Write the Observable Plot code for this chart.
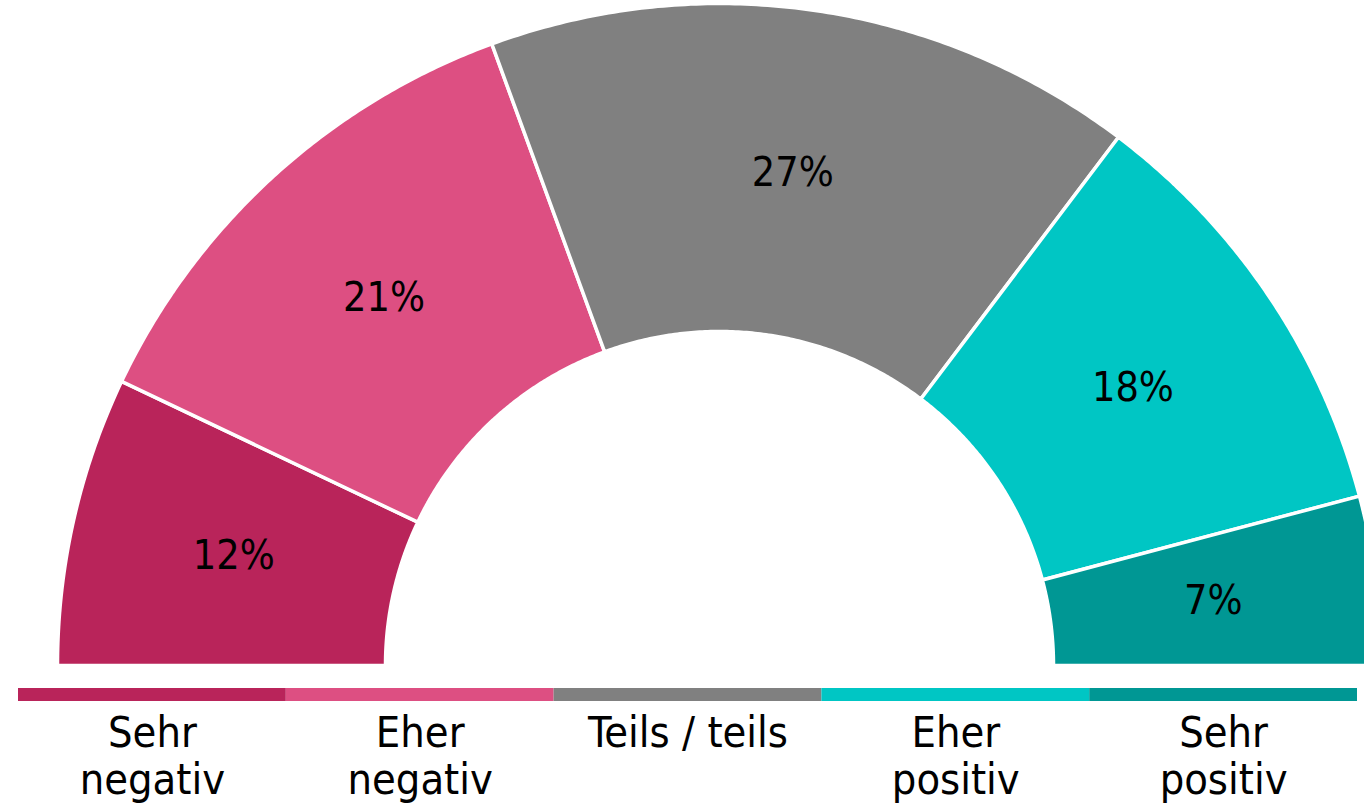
<!DOCTYPE html>
<html><head><meta charset="utf-8">
<script src="https://cdn.jsdelivr.net/npm/d3@7"></script>
<script src="https://cdn.jsdelivr.net/npm/@observablehq/plot@0.6"></script>
<style>body{margin:0;background:#fff} #chart svg{display:block}</style>
</head><body><div id="chart"></div>
<script>
// ---- data ----
const categories = ["Sehr negativ", "Eher negativ", "Teils / teils", "Eher positiv", "Sehr positiv"];
const legendLabels = ["Sehr\nnegativ", "Eher\nnegativ", "Teils / teils", "Eher\npositiv", "Sehr\npositiv"];
const values = [12, 21, 27, 18, 7];
const valueLabels = ["12%", "21%", "27%", "18%", "7%"];
const colors = ["#B9245A", "#DD4F82", "#808080", "#00C6C4", "#009794"];

// ---- layout ----
const W = 1364, H1 = 680, H2 = 807 - 680;
const cx = 719, cy = 665, R = 662;      // pixel centre / radius
const innerFrac = 334 / 662;

const total = d3.sum(values);
let cum = 0;
const slices = values.map((v, i) => {
  const a0 = Math.PI - (cum / total) * Math.PI;
  cum += v;
  const a1 = Math.PI - (cum / total) * Math.PI;
  return {cat: categories[i], v, a0, a1, label: valueLabels[i], color: colors[i]};
});

const pts = [];
slices.forEach(s => {
  const n = 120;
  const ring = [];
  for (let k = 0; k <= n; k++) { const a = s.a0 + (s.a1 - s.a0) * k / n; ring.push([Math.cos(a), Math.sin(a)]); }
  for (let k = n; k >= 0; k--) { const a = s.a0 + (s.a1 - s.a0) * k / n; ring.push([innerFrac * Math.cos(a), innerFrac * Math.sin(a)]); }
  ring.push(ring[0]);
  ring.forEach(p => pts.push({cat: s.cat, x: p[0], y: p[1]}));
});
const mid = (1 + innerFrac) / 2;
const labelData = slices.map(s => ({label: s.label, x: mid * Math.cos((s.a0 + s.a1) / 2), y: mid * Math.sin((s.a0 + s.a1) / 2)}));

const arcPlot = Plot.plot({
  width: W, height: H1,
  margin: 0,
  x: {domain: [-cx / R, (W - cx) / R], axis: null},
  y: {domain: [-(H1 - cy) / R, cy / R], axis: null},
  color: {domain: categories, range: colors},
  marks: [
    Plot.line(pts, {x: "x", y: "y", z: "cat", fill: "cat", stroke: "white", strokeWidth: 3.5, strokeLinejoin: "miter", curve: "linear"}),
    Plot.text(labelData, {x: "x", y: "y", text: "label", fontSize: 41, fill: "black", fontFamily: "'DejaVu Sans Condensed', sans-serif"})
  ]
});

const legendData = categories.map((c, i) => ({cat: c, i, label: legendLabels[i]}));
const legendPlot = Plot.plot({
  width: W, height: H2,
  marginLeft: 18, marginRight: 7, marginTop: 0, marginBottom: 0,
  x: {domain: [0, categories.length], axis: null},
  y: {domain: [H2, 0], axis: null},
  color: {domain: categories, range: colors},
  marks: [
    Plot.rect(legendData, {x1: d => d.i, x2: d => d.i + 1, y1: 8, y2: 21, fill: "cat"}),
    Plot.text(legendData, {x: d => d.i + 0.5, y: 33, text: "label", lineAnchor: "top", lineHeight: 1.1, fontSize: 43, fill: "black", fontFamily: "'DejaVu Sans Condensed', sans-serif"})
  ]
});

document.getElementById("chart").append(arcPlot, legendPlot);
</script>
</body></html>
